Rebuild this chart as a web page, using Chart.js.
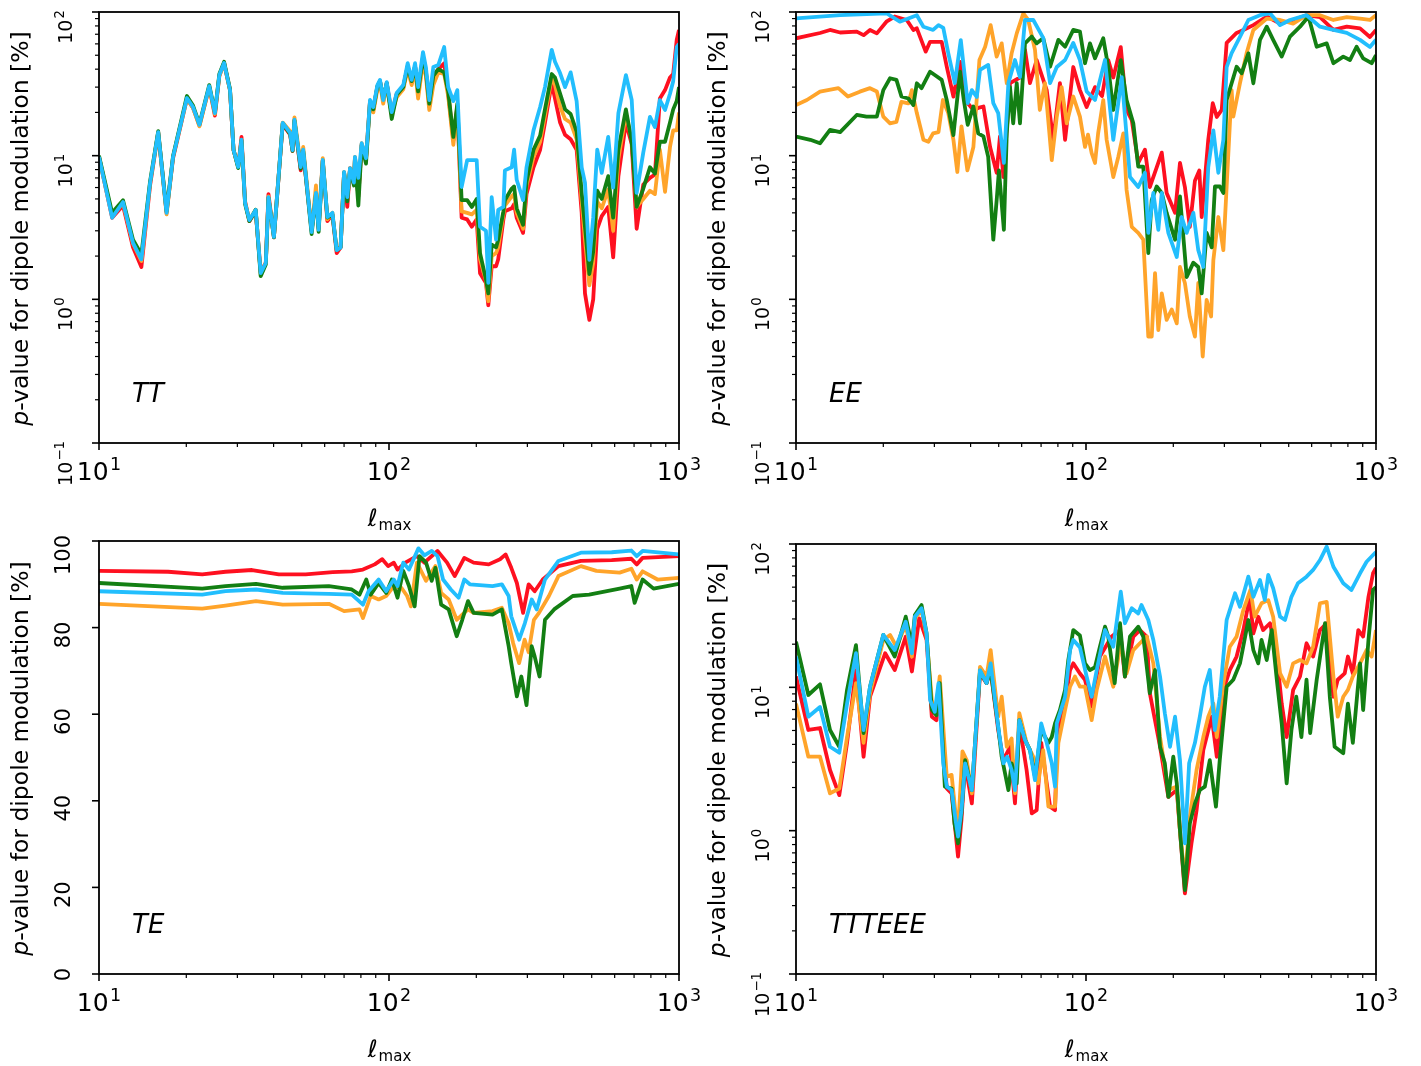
<!DOCTYPE html>
<html>
<head>
<meta charset="utf-8">
<script src="https://cdn.jsdelivr.net/npm/chart.js@4.4.0/dist/chart.umd.min.js"></script>
<style>
  body { margin: 0; background: #fff; }
  #wrap { position: relative; width: 1421px; height: 1066px; }
  canvas { position: absolute; }
</style>
</head>
<body>
<div id="wrap">
  <canvas id="cTT" width="700" height="533" style="left:0;top:0"></canvas>
  <canvas id="cEE" width="721" height="533" style="left:700px;top:0"></canvas>
  <canvas id="cTE" width="700" height="533" style="left:0;top:533px"></canvas>
  <canvas id="cTTTEEE" width="721" height="533" style="left:700px;top:533px"></canvas>
</div>
<script>
// ---- TT : shared ell_max grid ----
const ttEll = [10, 11.1, 12.1, 13.1, 14.0, 15.0, 16.0, 17.1, 18.0, 20.1,
  21.1, 22.2, 24.0, 25.1, 26.0, 27.0, 28.3, 29.1, 30.2, 31.0,
  31.9, 33.0, 34.7, 36.1, 37.6, 38.4, 40.1, 43.0, 45.6, 46.5,
  47.2, 49.6, 50.6, 54.1, 56.0, 57.2, 59.1, 61.3, 63.8, 66.0,
  68.1, 70.0, 71.8, 73.4, 75.7, 76.3, 78.4, 80.5, 83.3, 86.0,
  88.3, 91.2, 93.1, 95.5, 98.2, 102.2, 106.3, 112, 116, 119.7,
  123, 126, 131, 134, 137.7, 142.2, 148, 155, 160, 166.7,
  172, 178, 186, 193, 200.6, 206, 216, 220, 226, 234,
  238, 248, 251, 265, 270, 275.6, 290, 298, 315, 332,
  345, 364, 373.6, 389, 404.6, 423, 443.6, 461.8, 474, 490.8,
  506, 522.5, 541.5, 570, 593, 618, 656, 687, 714.5, 753,
  794, 826, 859, 895, 931, 955, 982, 1000];
const ttRed = [9.8, 3.7, 4.5, 2.3, 1.68, 6.2, 14.5, 4.0, 9.6, 25,
  21.5, 16.2, 30, 19.0, 36, 44, 28.5, 10.9, 8.4, 13.5,
  4.8, 3.5, 4.1, 1.55, 1.8, 5.4, 2.7, 16.5, 14, 10.8,
  17.5, 7.9, 10.5, 3.0, 5.5, 3.1, 9.3, 3.5, 3.9, 2.1,
  2.3, 7.6, 4.4, 8.2, 6.3, 9.6, 5.2, 12, 9.4, 24,
  21, 30, 33, 24, 32, 19.5, 27, 30, 42, 32,
  42, 27, 48, 38, 22, 36, 40, 44, 27, 12.8,
  22, 3.7, 3.6, 3.2, 3.6, 1.52, 1.3, 0.91, 1.7, 1.7,
  1.9, 3.6, 4.1, 4.3, 4.6, 3.7, 2.9, 5.4, 8.3, 11,
  17, 32, 25, 17, 14, 13, 11, 4.0, 1.1, 0.72,
  1.0, 3.1, 3.8, 4.4, 1.96, 7.2, 17, 12, 3.1, 6.3,
  7.0, 7.4, 25, 28.6, 35, 37, 64, 75];
const ttOrange = [9.8, 3.8, 4.7, 2.45, 1.85, 6.4, 14.5, 3.9, 9.8, 25,
  21.5, 16.0, 30, 19.5, 36, 44, 28.5, 11, 8.3, 12.9,
  4.7, 3.55, 4.2, 1.5, 1.8, 5.2, 2.75, 17, 14.8, 11.5,
  18.5, 8.6, 11.5, 3.0, 6.2, 3.2, 9.6, 3.6, 4.0, 2.2,
  2.35, 7.7, 5.0, 8.2, 6.4, 9.8, 5.6, 12.2, 9.6, 24,
  20, 29, 32, 23, 31, 19.5, 25.5, 29, 40, 31,
  40, 25, 45, 36, 20.8, 31, 38, 37, 26, 11.9,
  21, 4.1, 4.0, 3.9, 4.2, 1.9, 1.35, 0.97, 2.0, 2.1,
  2.3, 3.9, 4.5, 5.2, 5.4, 4.0, 3.1, 6.2, 9.8, 12.5,
  19, 35, 31, 22, 18, 17, 13, 4.8, 2.6, 1.25,
  1.8, 4.8, 4.3, 5.8, 3.0, 9.5, 19.5, 13, 4.4, 5.0,
  5.7, 5.4, 11, 5.6, 11.5, 15, 15, 20];
const ttGreen = [10, 4.0, 4.9, 2.6, 2.05, 6.6, 14.8, 4.1, 9.9, 26,
  22.3, 16.6, 31, 20, 37, 45, 29, 11, 8.2, 12.8,
  4.6, 3.5, 4.2, 1.45, 1.75, 5.1, 2.7, 16.8, 14.2, 10.8,
  17.6, 8.1, 10.8, 2.85, 5.4, 2.95, 9.2, 3.7, 3.9, 2.2,
  2.3, 7.6, 4.8, 8.1, 6.2, 9.5, 4.5, 11.8, 8.8, 23.5,
  21, 30.5, 33, 25, 32, 18, 26.5, 30, 42, 33,
  42, 28, 49, 39, 23, 36, 40, 38, 28, 13.5,
  23, 4.9, 4.9, 4.4, 5.0, 2.1, 1.37, 1.1, 2.4, 2.3,
  2.6, 4.1, 4.9, 5.9, 6.1, 4.3, 3.3, 6.6, 11, 13.8,
  21, 37, 35, 27, 21, 19.5, 14.7, 5.5, 3.2, 1.5,
  2.15, 5.7, 5.0, 7.2, 3.7, 11, 21, 12.5, 4.4, 5.9,
  8.3, 7.5, 12.5, 12.5, 17, 21, 24, 30];
const ttBlue = [9.8, 3.7, 4.76, 2.47, 1.9, 6.46, 14.6, 4.0, 9.8, 25.2,
  21.8, 16.4, 30.5, 19.8, 36.4, 44.2, 28.6, 10.95, 8.34, 12.9,
  4.68, 3.56, 4.19, 1.52, 1.79, 5.15, 2.72, 16.9, 14.4, 10.95,
  17.8, 8.34, 11, 2.94, 5.5, 3.05, 9.33, 3.74, 4.0, 2.2,
  2.3, 7.7, 5.15, 8.2, 6.5, 9.8, 7.0, 12.2, 9.6, 24.4,
  21.8, 31, 33.7, 24.4, 32.5, 20.1, 27.3, 31, 44, 33.7,
  44, 30, 52.6, 41.4, 24.4, 41.4, 42.8, 57, 30, 24,
  28.6, 6.05, 9.3, 9.3, 9.3, 3.2, 3.0, 1.3, 5.15, 2.6,
  4.2, 4.4, 7.9, 8.3, 11, 6.8, 4.9, 8.3, 15, 21.8,
  30, 54.5, 45, 37.6, 30, 38, 24, 8.3, 6.5, 1.88,
  3.7, 11, 7.6, 13.5, 6.0, 19.8, 36.4, 24.4, 5.5, 10.5,
  18.6, 15.8, 24.4, 20.8, 27, 33, 57, 60];

// ---- EE ----
const eeRedEll = [10, 12.1, 13.1, 14.2, 16.2, 17.1, 18, 19, 20.5, 21.9,
  24.1, 25.4, 26.1, 28, 29, 31.8, 33.1, 34.9, 36.8, 38.3,
  40.9, 42.5, 44.3, 46.7, 49.2, 50.5, 51.9, 54.7, 59.2, 61.6,
  64.1, 67.6, 73.2, 77.1, 81.3, 84.7, 90.4, 95.3, 100.5, 107.4,
  113.6, 119.3, 124.2, 131.8, 138, 143.8, 151.4, 159.7, 166, 175.3,
  182.5, 189.7, 202.8, 210.9, 219.3, 228, 237.5, 245.9, 250.6, 264,
  273.6, 282.5, 293.8, 305.5, 330.6, 348.8, 377.6, 420, 467, 518,
  576, 641, 713, 793, 881, 953, 1000];
const eeRedP = [65.6, 71.4, 75, 72, 73, 69, 75, 71, 85.6, 93,
  88, 75, 77, 53, 62, 62, 41.6, 25.8, 45, 24.4,
  20.8, 21.5, 22, 11.5, 7.6, 13.6, 7.1, 32, 35, 54.5,
  32, 46.3, 28.6, 12.9, 32, 12.9, 41.4, 28.6, 21.8, 30,
  26, 46.3, 35, 57, 20.8, 17.7, 8.9, 11, 6.05, 8.3,
  10.5, 5.5, 4.0, 8.9, 6.05, 3.2, 6.7, 7.9, 3.74, 12.9,
  23.2, 18.6, 20.8, 60.9, 71.5, 75, 81, 93, 83, 88,
  95, 92, 75, 79, 77, 67, 75];
const eeOrangeEll = [10, 10.9, 12.1, 14, 15.1, 16.6, 18, 19, 20, 21.1,
  22.2, 23.1, 24.4, 25.1, 26.1, 27.5, 28.6, 29.7, 31, 32.1,
  33.5, 34.9, 36, 37.2, 39, 40.9, 42.9, 44.9, 46.9, 49.2,
  51.2, 53.3, 55.4, 57.7, 60.8, 63.2, 66.7, 69.3, 72.2, 76.2,
  79.3, 82.4, 85.8, 90.4, 95.3, 99.2, 101.6, 104.6, 107.4, 110.1,
  114.7, 117.8, 124.2, 129.2, 134.5, 138, 143.8, 151.4, 157.6, 164,
  168.5, 173, 177.6, 182.5, 189.7, 197.5, 205.6, 210.9, 219.3, 228,
  237.5, 243.9, 252.6, 260.6, 270, 274.9, 286, 297.6, 305.5, 317.8,
  322, 339.6, 358, 377.6, 420, 467, 518, 576, 641, 713,
  793, 881, 953, 1000];
const eeOrangeP = [22.5, 24.4, 27.9, 29.5, 25.8, 27.9, 29.5, 28, 18.7, 16.8,
  17.2, 23.7, 23.1, 28.6, 19.8, 12.9, 12.5, 14.3, 14.6, 24.4,
  19.8, 12.9, 7.7, 16, 7.9, 11.5, 46.3, 57.3, 81, 48.9,
  60.5, 31.9, 51.5, 71, 98, 88, 54.5, 20.8, 32, 9.3,
  18.7, 30, 16.8, 25.8, 18.7, 11.5, 14, 10.4, 8.9, 14.3,
  24.4, 12.9, 7.1, 9.8, 14.3, 5.8, 3.2, 2.9, 2.6, 0.55,
  0.55, 1.52, 0.61, 1.1, 0.72, 0.85, 0.68, 1.68, 1.3, 0.76,
  0.55, 1.3, 0.40, 0.99, 0.76, 1.88, 3.74, 2.2, 6.1, 28.6,
  18.7, 32, 51.8, 75, 90, 88, 83, 95, 95, 88,
  92, 90, 88, 95];
const eeGreenEll = [10, 11.2, 12.1, 13.1, 14.2, 16.2, 17.5, 19, 20, 21.1,
  22.2, 23.1, 24.4, 25.4, 26.1, 27.1, 29, 30.1, 31.8, 33.1,
  34.9, 36.8, 37.9, 39.1, 40.9, 42.5, 44.3, 46, 47.9, 49.2,
  50.1, 52.1, 53.3, 54.7, 56.1, 57.7, 59.2, 61.6, 65, 67.6,
  71.2, 75.2, 80.3, 84.7, 90.4, 95.3, 99.2, 103.2, 107.4, 114.7,
  119.3, 124.2, 131.8, 138, 145.6, 151.4, 157.6, 164, 168.5, 175.3,
  182.5, 189.7, 202.8, 210.9, 222.4, 234.5, 243.9, 250.6, 260.6, 271.3,
  278.4, 289.7, 297.6, 305.5, 317.8, 330.6, 344.3, 363, 377.6, 398,
  420, 442, 473, 505, 547, 585, 624.5, 676, 713, 771,
  813, 857, 903, 966, 1000];
const eeGreenP = [13.6, 12.9, 12.2, 15.1, 14.6, 19.2, 18.7, 18.7, 28.6, 34.6,
  33.7, 25.8, 25, 22.5, 31.9, 29.5, 38.4, 36.4, 33.7, 24.4,
  13.9, 38.4, 24.4, 16.4, 22, 14.3, 13.6, 9.8, 2.6, 4.9,
  7.9, 3.05, 14.3, 30, 16.8, 32, 16.8, 60.5, 67.4, 60.5,
  65.6, 41.6, 64, 57.3, 75, 73, 44, 60.5, 47.6, 65.6,
  41.6, 20.8, 46.3, 24.4, 16.8, 8.4, 8.4, 2.1, 4.9, 6.1,
  5.5, 4.0, 2.6, 5.2, 1.43, 1.8, 1.68, 1.1, 2.9, 2.3,
  6.1, 6.1, 5.5, 24.4, 31.9, 41.6, 37.5, 51.5, 31.9, 64,
  79, 64, 48.9, 67.4, 79, 93, 57.3, 60.5, 44, 48.9,
  46.3, 57.3, 47.6, 44, 50];
const eeBlueEll = [10, 14.2, 20.5, 22.8, 26.1, 27.5, 29.7, 31, 32.2, 33.5,
  35.3, 37, 39.1, 40.4, 42, 43.1, 46, 47.9, 49.8, 52.1,
  54, 56.9, 59.2, 61.6, 65.8, 71.2, 75.2, 79.3, 84.7, 90.4,
  95.3, 100.5, 107.4, 116.3, 124.2, 132.8, 141.8, 151.4, 159.7, 164,
  170.7, 177.6, 182.5, 192.3, 205.6, 213.8, 222.4, 234.5, 243.9, 253.8,
  264, 274.9, 286, 297.6, 305.5, 317.8, 339.6, 363, 398, 431,
  467, 505, 576, 641, 713, 793, 881, 953, 1000];
const eeBlueP = [90.4, 95, 98, 85.6, 95, 79, 75, 81, 77.4, 51.8,
  32, 63.8, 23.2, 28.6, 25.6, 39.5, 42.8, 23.2, 19.8, 8.9,
  32, 46.3, 35.2, 88, 88, 66, 32, 41.4, 46.3, 60.9,
  46.3, 28, 24.4, 46.3, 12.9, 35.2, 7.1, 6.05, 7.6, 2.9,
  5.5, 3.05, 5.5, 2.9, 1.97, 3.74, 2.9, 4.0, 2.2, 1.68,
  8.3, 15, 7.6, 12.9, 41.4, 51.8, 67, 88, 95, 98,
  81, 88, 95, 79, 75, 71.5, 64, 57, 64];

// ---- TE (linear p-value) ----
const teRedEll = [10, 17.3, 22.7, 27.3, 33.7, 41.7, 51.6, 63.9, 74.4, 81.3,
  89.3, 94.8, 99.3, 103.9, 107, 113.8, 124.8, 132.4, 147, 158.6,
  168.5, 181.8, 195.8, 220.7, 241.5, 252.5, 264, 276, 290, 303,
  318, 339, 384, 459, 586, 685, 715, 749, 1000];
const teRedP = [93.1, 92.9, 92.3, 92.9, 93.3, 92.3, 92.3, 92.8, 93, 93.4,
  94.6, 95.8, 94.2, 95, 93.4, 95, 96.5, 95, 97.7, 95,
  91.9, 96.1, 95, 94.6, 95.8, 96.9, 93.8, 90.3, 83.4, 90,
  88.4, 91.1, 94.2, 95.4, 95.6, 95.9, 94.6, 96.1, 96.5];
const teOrangeEll = [10, 22.7, 27.3, 34.8, 43, 62, 70, 79.1, 81.3, 86.5,
  92.1, 97.8, 103.9, 110.3, 115.5, 119, 124.8, 134.2, 144.6, 151.3,
  160.6, 171.2, 178.9, 187.3, 195.8, 227.5, 245, 258.6, 268, 281,
  293.6, 303, 316, 329, 356, 384, 459, 519, 624, 685,
  715, 749, 843, 1000];
const teOrangeP = [85.5, 84.4, 85.1, 86.1, 85.3, 85.5, 83.8, 84.2, 82.2, 87.3,
  86.5, 87.3, 89.6, 89.2, 87.3, 84.9, 95, 90.8, 94.2, 88,
  86.5, 81.8, 83, 84.2, 83.4, 83.8, 84.6, 81, 76.4, 71.8,
  77.2, 74.3, 81.8, 83.4, 87.3, 91.9, 94.2, 93.1, 92.7, 93.6,
  91.1, 93, 91.1, 91.5];
const teGreenEll = [10, 22.7, 27.3, 34.8, 43, 62, 74.4, 79.1, 83.5, 86.5,
  92.1, 97.8, 102.3, 107, 112, 117.2, 122.6, 127.4, 134.2, 140.4,
  144.6, 151.3, 160.6, 171.2, 178.9, 187.3, 195.8, 227.5, 245, 258.6,
  264, 276, 286, 298, 310.5, 318, 330.5, 345, 371, 430,
  490, 624, 685, 703, 749, 817, 1000];
const teGreenP = [90.3, 89, 89.6, 90.1, 89.2, 89.6, 88.8, 87.6, 91.1, 87.6,
  90.3, 88, 91.1, 86.9, 93.1, 89.6, 84.9, 96.5, 95, 90.8,
  93.8, 85.3, 84.2, 78, 81.8, 86.1, 83.4, 83, 84.2, 75.7,
  71.8, 64.1, 68.7, 62.1, 75.7, 73.3, 68.7, 81.8, 84.2, 87.3,
  87.6, 89, 89.6, 85.7, 91.1, 89, 90.1];
const teBlueEll = [10, 22.7, 27.3, 34.8, 43, 62, 74.4, 81.3, 85, 92.1,
  97.8, 103.9, 107, 112, 117.2, 126.3, 132.4, 140.4, 147, 153.6,
  163.4, 173.8, 181.8, 190, 227.5, 245, 258.6, 264, 281, 294,
  310.5, 323, 345, 384, 459, 586, 685, 715, 749, 1000];
const teBlueP = [88.4, 87.6, 88.4, 88.8, 88, 87.8, 87.6, 85.3, 88.4, 91.1,
  88.4, 91.1, 89.6, 95, 93.4, 98.3, 96.7, 97.7, 96.5, 91.1,
  88.8, 86.9, 91.1, 90, 89.6, 90, 87.3, 82.6, 77.2, 81,
  86.5, 84.2, 91.1, 95.4, 97.3, 97.4, 97.8, 96.5, 97.7, 96.9];

// ---- TTTEEE ----
const brRedEll = [10, 11.03, 12.1, 13.1, 14.1, 15, 16.1, 17.1, 18, 20.3,
  21.9, 23.9, 25.1, 26.6, 28.2, 29.4, 30.5, 31.3, 33.1, 34.4,
  36.2, 37.2, 38.3, 40.4, 43.1, 45.4, 46.9, 49.8, 51.9, 54.7,
  56.9, 58.9, 62.4, 65, 67.6, 70.1, 73.2, 75.2, 78.2, 79.7,
  84.7, 88.1, 90.4, 95.3, 99.2, 104.6, 111.7, 122.6, 131, 136.2,
  145.6, 153.4, 162, 166, 180, 192.3, 205.6, 210.9, 219.3, 231,
  240.6, 253.8, 271.3, 282.5, 297.6, 313.2, 330.6, 348.8, 367, 377.6,
  392.6, 408, 431, 455, 473, 492, 518, 547, 576, 607,
  641, 676, 713, 738, 780, 800, 832, 869, 903, 942,
  977, 1000];
const brRedP = [11.9, 5.04, 5.2, 2.65, 1.77, 4.1, 13.2, 3.28, 8.6, 17.3,
  13.2, 22.6, 12.9, 30.3, 21.4, 6.24, 5.9, 9.6, 1.97, 1.82,
  0.66, 1.19, 2.95, 1.55, 12.5, 10.7, 13.2, 5.04, 3.1, 3.85,
  1.55, 5.6, 2.65, 1.32, 1.39, 4.1, 2.14, 1.47, 1.39, 5.04,
  7.7, 13.2, 14.7, 12.5, 11.3, 7.33, 16.4, 22.6, 25.1, 11.9,
  22.6, 25.1, 22.6, 9.1, 3.85, 1.72, 1.92, 1.0, 0.365, 0.815,
  1.39, 3.65, 6.24, 3.28, 9.6, 13.2, 16.4, 25.1, 42.8, 23.8,
  31.1, 25.1, 28, 16.4, 7.7, 4.5, 9.6, 11.9, 20.3, 16.4,
  25.1, 28, 8.6, 11.3, 12.5, 16.4, 12.5, 25.1, 22.6, 42.8,
  62.5, 68];
const brOrangeEll = [10, 11.03, 12.1, 13.1, 14.1, 15, 16.1, 17.1, 18, 20,
  21.1, 22.2, 23.9, 25.1, 25.7, 27.1, 28.2, 29.4, 30.3, 31.3,
  33.1, 34.4, 35.5, 36.2, 37.5, 38.8, 40.4, 43.1, 45.4, 46.9,
  49.8, 51.2, 53.3, 55.4, 56.9, 58.9, 62.4, 65.8, 68.4, 71.2,
  74.2, 78.2, 80.3, 84.7, 88.1, 91.6, 95.3, 99.2, 104.6, 108.9,
  116.3, 124.2, 131.8, 138, 145.6, 153.4, 162, 170.7, 180, 192.3,
  205.6, 210.9, 219.3, 228, 240.6, 253.8, 264, 274.9, 282.5, 297.6,
  313.2, 330.6, 348.8, 369, 381.6, 403, 425, 442, 467, 492,
  518, 547, 576, 607, 641, 676, 713, 738, 771, 800,
  832, 881, 928, 966, 1000];
const brOrangeP = [7.7, 3.28, 3.28, 1.82, 1.97, 4.5, 10.7, 4.1, 9.1, 21.4,
  23.2, 19.2, 27.2, 16.4, 30.3, 34.6, 22.6, 8.15, 6.5, 11.9,
  2.38, 2.45, 1.32, 1.0, 3.57, 3.1, 1.82, 13.9, 11.9, 18.2,
  6.24, 8.6, 3.85, 4.4, 1.82, 6.6, 4.1, 3.28, 2.14, 3.65,
  1.47, 1.47, 4.1, 6.95, 10.1, 11.9, 10.1, 10.1, 5.9, 9.6,
  16.4, 10.1, 20.3, 12.5, 18.2, 20.3, 22.6, 14.7, 4.5, 1.92,
  2.03, 1.0, 0.45, 1.25, 2.65, 4.5, 6.24, 7.7, 4.5, 10.7,
  19.2, 22.6, 34.6, 47.8, 31.1, 38.6, 40.6, 31.1, 12.5, 10.1,
  14.7, 15.5, 14.7, 19.2, 38.6, 39.5, 11.9, 6.24, 8.6, 9.6,
  11.9, 14.7, 18.2, 16.4, 25.1];
const brGreenEll = [10, 11.03, 12.1, 13.1, 14.1, 15, 16.1, 17.1, 18, 20,
  21.9, 23.9, 25.1, 25.7, 27.1, 28.2, 29.4, 30.5, 31.3, 32.6,
  34.4, 35.2, 36.2, 37.2, 38.3, 40.4, 43.1, 45.4, 46.9, 49.8,
  51.2, 54, 55.4, 57.7, 58.9, 61.6, 64.1, 66.7, 70.1, 74.2,
  76.2, 78.2, 81.3, 84.7, 86.9, 90.4, 95.3, 99.2, 103.2, 107.4,
  111.7, 116.3, 119.3, 125.6, 131, 136.2, 141.8, 151.4, 157.6, 166,
  173, 180, 187, 192.3, 200, 205.6, 210.9, 219.3, 228, 237.5,
  246.9, 256.9, 267.2, 280.6, 289.2, 305.5, 322, 339.6, 363, 377.6,
  392.6, 403, 420, 437, 455, 473, 492, 511, 531, 553,
  576, 593, 624.5, 667, 693, 720, 771, 800, 832, 881,
  903, 942, 977, 1000];
const brGreenP = [20.8, 8.84, 10.5, 5.04, 3.85, 9.6, 19.7, 4.8, 10.1, 23.2,
  16.4, 31.1, 19.7, 31.9, 37.5, 23.8, 6.95, 6.4, 10.7, 2.03,
  1.97, 1.12, 0.815, 1.32, 3.1, 1.92, 13, 10.7, 13.2, 5.3,
  3.28, 1.92, 2.95, 2.14, 5.9, 4.3, 3.65, 2.38, 5.04, 4.1,
  4.5, 5.6, 6.95, 9.6, 15.5, 25.1, 23, 14.7, 13.2, 13.8,
  19.2, 26.5, 22.6, 10.7, 28, 11.9, 22.6, 26.5, 22.6, 9.1,
  13.2, 3.85, 2.95, 1.72, 3.28, 2.14, 1.0, 0.385, 1.12, 1.55,
  1.92, 2.03, 3.1, 1.47, 3.1, 10.1, 11.3, 14.7, 29.5, 18.2,
  14.7, 21.4, 15.5, 25.1, 11.3, 5.6, 2.14, 5.04, 8.6, 4.5,
  11.3, 4.8, 11.3, 28, 8.6, 3.85, 3.47, 7.7, 4.1, 14.7,
  6.95, 21.4, 47.8, 50];
const brBlueEll = [10, 11.03, 12.1, 13.1, 14.1, 15, 16.1, 17.1, 18, 20,
  21.9, 23.9, 25.1, 25.7, 27.1, 28.2, 29, 30.1, 31, 32.2,
  33.1, 34.4, 35.5, 36.2, 37.2, 38.3, 40.4, 43.1, 45.4, 46.9,
  49.8, 51.9, 53.5, 55.4, 56.9, 58.9, 61.6, 64.1, 66.7, 70.1,
  73.2, 76.2, 78.2, 79.3, 84.7, 88.1, 90.4, 95.3, 100.5, 104.6,
  108.9, 116.3, 124.2, 131.8, 136.2, 143.8, 151.4, 155.4, 164, 170.7,
  180, 187, 194.9, 202.8, 210.9, 219.3, 226.8, 237.5, 246.9, 256.9,
  267.2, 278, 289.2, 305.5, 326.6, 339.6, 363, 377.6, 398, 413.6,
  425, 442, 467, 485.6, 511, 538, 576, 607, 641, 676,
  713, 771, 823, 881, 928, 977, 1000];
const brBlueP = [16.4, 6.24, 7.3, 3.85, 3.5, 7.7, 17.3, 5.04, 10.1, 23.2,
  18.2, 28.7, 17.3, 31.1, 35.6, 23.8, 8.15, 6.76, 10.7, 2.95,
  2.03, 1.92, 1.19, 0.91, 1.39, 2.95, 1.92, 13.2, 10.7, 14.7,
  5.3, 2.95, 3.28, 2.65, 1.92, 5.9, 4.3, 3.65, 2.25, 5.6,
  4.1, 2.95, 2.03, 5.6, 8.6, 18.2, 21.4, 19, 11.9, 8.6,
  13.2, 25.1, 19.2, 46.5, 28, 35.6, 32.8, 37.5, 29.5, 21.4,
  11.9, 6.6, 3.85, 6.24, 3.1, 0.815, 2.95, 4.1, 6.24, 10.1,
  13.2, 5.04, 8.6, 29.5, 45.3, 36.5, 59.2, 42.8, 56.1, 40.6,
  60.8, 49.1, 31.1, 29.5, 42.8, 53.2, 59.2, 65.9, 77.3, 95.8,
  69.4, 53.2, 47.8, 62.5, 75.2, 83.8, 88];

const xTickVals = [10, 100, 1000];
const logYTickVals = [0.1, 1, 10, 100];
const linYTickVals = [0, 20, 40, 60, 80, 100];

const FONT = '"DejaVu Sans"';
const RED = '#fe1020', ORANGE = '#ffa42a', GREEN = '#137f13', BLUE = '#22befd';

function expOf(v) {
  const e = Math.round(Math.log10(v));
  return e < 0 ? '−' + (-e) : String(e);
}

// draws "10" with a raised exponent; baseline at y, centred on x or ending at x
function drawPow(ctx, exp, size, x, y, align) {
  const fb = size + 'px ' + FONT, fs = (size * 0.7) + 'px ' + FONT;
  const gap = size * 0.06;
  ctx.font = fb;
  const wb = ctx.measureText('10').width;
  ctx.font = fs;
  const ws = ctx.measureText(exp).width;
  const total = wb + gap + ws;
  const x0 = align === 'center' ? x - total / 2 : x - total;
  ctx.textAlign = 'left';
  ctx.textBaseline = 'alphabetic';
  ctx.font = fb;
  ctx.fillText('10', x0, y);
  ctx.font = fs;
  ctx.fillText(exp, x0 + wb + gap, y - size * 0.42);
}

function line(ell, p, color, order) {
  return {
    data: ell.map((x, i) => ({ x: x, y: p[i] })),
    borderColor: color, borderWidth: 3.8, pointRadius: 0,
    tension: 0, fill: false, order: order, borderJoinStyle: 'round'
  };
}

// frame, tick marks, tick labels, axis titles and the panel tag
const panelDeco = {
  id: 'panelDeco',
  afterDraw(chart, args, o) {
    const ctx = chart.ctx, a = chart.chartArea;
    const xs = chart.scales.x, ys = chart.scales.y;
    ctx.save();
    ctx.strokeStyle = '#000';
    ctx.fillStyle = '#000';

    // x ticks, log major + minor
    for (let e = 1; e <= 3; e++) {
      for (let k = 1; k <= 9; k++) {
        const v = k * Math.pow(10, e);
        if (v > 1000) break;
        const px = xs.getPixelForValue(v);
        ctx.lineWidth = k === 1 ? 1.6 : 1.2;
        ctx.beginPath();
        ctx.moveTo(px, a.bottom);
        ctx.lineTo(px, a.bottom + (k === 1 ? 7 : 4));
        ctx.stroke();
      }
    }
    xTickVals.forEach(v => {
      drawPow(ctx, expOf(v), 25, xs.getPixelForValue(v), a.bottom + 37, 'center');
    });

    // y ticks and rotated labels
    if (o.logY) {
      for (let e = -1; e <= 2; e++) {
        for (let k = 1; k <= 9; k++) {
          const v = k * Math.pow(10, e);
          if (v > 100.001) break;
          const py = ys.getPixelForValue(v);
          ctx.lineWidth = k === 1 ? 1.6 : 1.2;
          ctx.beginPath();
          ctx.moveTo(a.left, py);
          ctx.lineTo(a.left - (k === 1 ? 7 : 4), py);
          ctx.stroke();
        }
      }
      logYTickVals.forEach(v => {
        const py = ys.getPixelForValue(v);
        ctx.save();
        ctx.translate(a.left - 27, py - 2);
        ctx.rotate(-Math.PI / 2);
        drawPow(ctx, expOf(v), 19, 0, 0, 'right');
        ctx.restore();
      });
    } else {
      linYTickVals.forEach(v => {
        const py = ys.getPixelForValue(v);
        ctx.lineWidth = 1.6;
        ctx.beginPath();
        ctx.moveTo(a.left, py);
        ctx.lineTo(a.left - 7, py);
        ctx.stroke();
        ctx.save();
        ctx.translate(a.left - 37, py - 6);
        ctx.rotate(-Math.PI / 2);
        ctx.font = '21px ' + FONT;
        ctx.textAlign = 'right';
        ctx.textBaseline = 'alphabetic';
        ctx.fillText(String(v), 0, 7.5);
        ctx.restore();
      });
    }

    ctx.lineWidth = 1.8;
    ctx.strokeRect(a.left, a.top, a.right - a.left, a.bottom - a.top);

    // panel tag
    ctx.font = 'italic 26px ' + FONT;
    ctx.textBaseline = 'alphabetic';
    ctx.textAlign = 'left';
    ctx.fillText(o.label, a.left + 33, a.bottom - 41);

    // x title: l_max
    const cx = (a.left + a.right) / 2;
    const fBig = '24px ' + FONT, fSub = '15px ' + FONT;
    ctx.font = fBig;
    const wl = ctx.measureText('ℓ').width;
    ctx.font = fSub;
    const wm = ctx.measureText('max').width;
    const x0 = cx - (wl + wm) / 2;
    ctx.font = fBig;
    ctx.fillText('ℓ', x0, a.bottom + 83);
    ctx.font = fSub;
    ctx.fillText('max', x0 + wl + 1, a.bottom + 87);

    // y title
    ctx.translate(a.left - 77, (a.top + a.bottom) / 2 + 1);
    ctx.rotate(-Math.PI / 2);
    ctx.textBaseline = 'middle';
    const fIt = 'italic 23.5px ' + FONT, fRm = '23.5px ' + FONT;
    const rest = '-value for dipole modulation [%]';
    ctx.font = fIt;
    const wp = ctx.measureText('p').width;
    ctx.font = fRm;
    const wr = ctx.measureText(rest).width;
    const s = -(wp + wr) / 2;
    ctx.font = fIt;
    ctx.fillText('p', s, 0);
    ctx.font = fRm;
    ctx.fillText(rest, s + wp, 0);
    ctx.restore();
  }
};

function makePanel(id, box, datasets, logY, label) {
  const canvas = document.getElementById(id);
  const W = canvas.width, H = canvas.height;
  const yScale = logY
    ? { type: 'logarithmic', min: 0.1, max: 100 }
    : { type: 'linear', min: 0, max: 100 };
  Object.assign(yScale, {
    grid: { display: false, drawTicks: false },
    border: { display: false },
    ticks: { display: false },
    afterFit: s => { s.width = box.left; s.paddingTop = 0; s.paddingBottom = 0; }
  });

  return new Chart(canvas, {
    type: 'line',
    data: { datasets: datasets },
    options: {
      responsive: false, animation: false, events: [],
      layout: { padding: { left: 0, top: box.top, right: W - box.right, bottom: 0 } },
      plugins: { legend: { display: false }, tooltip: { enabled: false },
                 panelDeco: { label: label, logY: logY } },
      scales: {
        x: {
          type: 'logarithmic', min: 10, max: 1000,
          grid: { display: false, drawTicks: false },
          border: { display: false },
          ticks: { display: false },
          afterFit: s => { s.height = H - box.bottom; s.paddingLeft = 0; s.paddingRight = 0; }
        },
        y: yScale
      }
    },
    plugins: [panelDeco]
  });
}

makePanel('cTT', { left: 99, right: 679, top: 12, bottom: 443 }, [
  line(ttEll, ttRed, RED, 3), line(ttEll, ttOrange, ORANGE, 2),
  line(ttEll, ttGreen, GREEN, 1), line(ttEll, ttBlue, BLUE, 0)
], true, 'TT');

makePanel('cEE', { left: 96, right: 676, top: 12, bottom: 443 }, [
  line(eeRedEll, eeRedP, RED, 3), line(eeOrangeEll, eeOrangeP, ORANGE, 2),
  line(eeGreenEll, eeGreenP, GREEN, 1), line(eeBlueEll, eeBlueP, BLUE, 0)
], true, 'EE');

makePanel('cTE', { left: 99, right: 679, top: 8, bottom: 441 }, [
  line(teRedEll, teRedP, RED, 3), line(teOrangeEll, teOrangeP, ORANGE, 2),
  line(teGreenEll, teGreenP, GREEN, 1), line(teBlueEll, teBlueP, BLUE, 0)
], false, 'TE');

makePanel('cTTTEEE', { left: 96, right: 676, top: 11, bottom: 441 }, [
  line(brRedEll, brRedP, RED, 3), line(brOrangeEll, brOrangeP, ORANGE, 2),
  line(brGreenEll, brGreenP, GREEN, 1), line(brBlueEll, brBlueP, BLUE, 0)
], true, 'TTTEEE');
</script>
</body>
</html>
